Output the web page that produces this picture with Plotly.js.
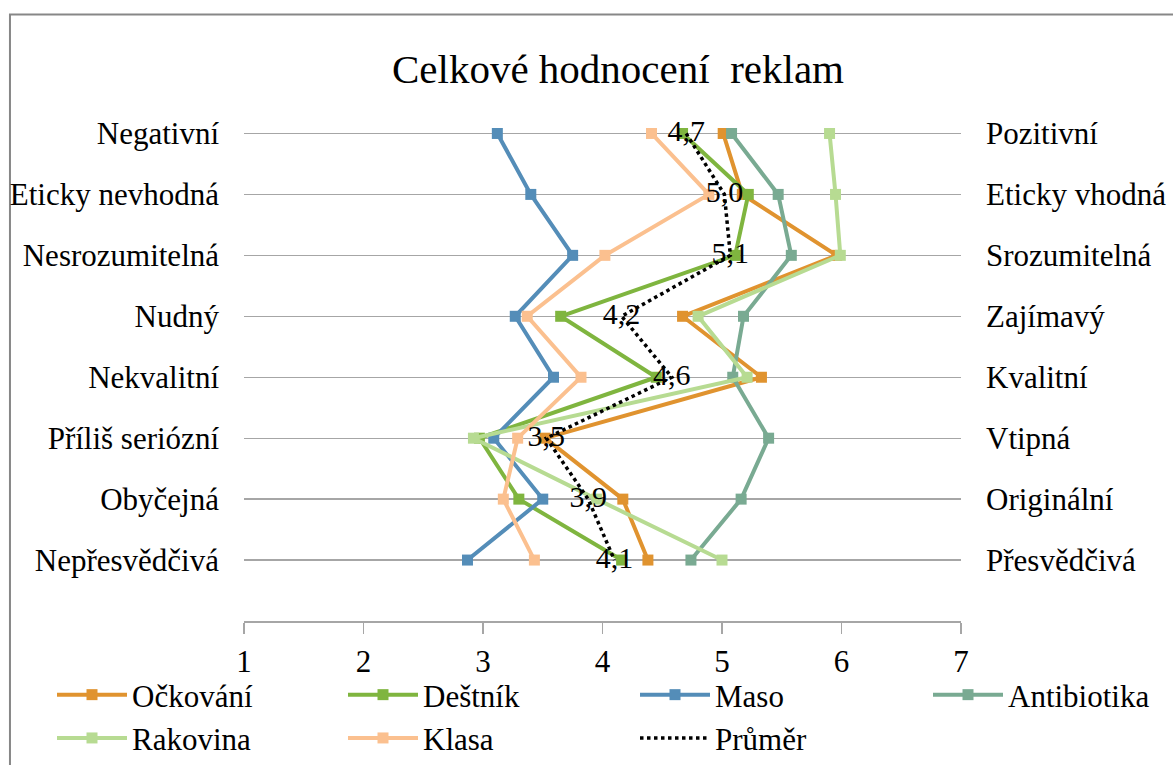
<!DOCTYPE html>
<html>
<head>
<meta charset="utf-8">
<script src="https://cdn.plot.ly/plotly-3.0.1.min.js"></script>
<style>
  html, body { margin: 0; padding: 0; background: #ffffff; }
  #chart { width: 1173px; height: 765px; }
</style>
</head>
<body>
<div id="chart"></div>
<script>
// ---- data ----
const leftLabels  = ["Negativní", "Eticky nevhodná", "Nesrozumitelná", "Nudný", "Nekvalitní", "Příliš seriózní", "Obyčejná", "Nepřesvědčivá"];
const rightLabels = ["Pozitivní", "Eticky vhodná", "Srozumitelná", "Zajímavý", "Kvalitní", "Vtipná", "Originální", "Přesvědčivá"];
const xTicks = [1, 2, 3, 4, 5, 6, 7];

const ockovani    = [5.01, 5.17, 5.96, 4.67, 5.33, 3.52, 4.17, 4.38];
const destnik     = [4.67, 5.22, 5.11, 3.65, 4.45, 2.97, 3.30, 4.16];
const maso        = [3.12, 3.40, 3.75, 3.27, 3.59, 3.09, 3.50, 2.87];
const antibiotika = [5.08, 5.47, 5.58, 5.18, 5.09, 5.39, 5.16, 4.74];
const rakovina    = [5.90, 5.95, 5.99, 4.80, 5.21, 2.92, 3.95, 5.00];
const klasa       = [4.41, 4.89, 4.02, 3.37, 3.82, 3.29, 3.17, 3.43];
const prumer      = [4.70, 5.02, 5.07, 4.16, 4.58, 3.53, 3.88, 4.10];
const prumerText  = ["4,7", "5,0", "5,1", "4,2", "4,6", "3,5", "3,9", "4,1"];

const seriesNames  = ["Očkování", "Deštník", "Maso", "Antibiotika", "Rakovina", "Klasa"];
const seriesValues = [ockovani, destnik, maso, antibiotika, rakovina, klasa];
const seriesColors = ["#E0932F", "#7FB53F", "#548DB8", "#79AA92", "#B7DB92", "#FBC08F"];
// legend column for each series (Průměr goes in the third column)
const seriesLegend = ["legend", "legend2", "legend3", "legend4", "legend", "legend2"];

const FONT = "Liberation Serif";

const traces = seriesValues.map((vals, i) => ({
  type: "scatter",
  mode: "lines+markers",
  name: seriesNames[i],
  x: vals,
  y: leftLabels,
  legend: seriesLegend[i],
  line: { color: seriesColors[i], width: 4 },
  marker: { symbol: "square", size: 11, color: seriesColors[i] },
  hoverinfo: "skip"
}));

traces.push({
  type: "scatter",
  mode: "lines+text",
  name: "Průměr",
  x: prumer,
  y: leftLabels,
  legend: "legend3",
  text: prumerText,
  textposition: "middle center",
  textfont: { family: FONT, size: 30, color: "#000000" },
  line: { color: "#000000", width: 3.5, dash: "dot" },
  hoverinfo: "skip"
});

// invisible helper trace for the right-hand category labels
traces.push({
  type: "scatter",
  mode: "markers",
  x: prumer,
  y: rightLabels,
  yaxis: "y2",
  marker: { opacity: 0 },
  showlegend: false,
  hoverinfo: "skip"
});

function legendAt(xPx) {
  return {
    orientation: "v",
    xref: "container", yref: "container",
    x: xPx / 1173, xanchor: "left",
    y: 1 - 668 / 765, yanchor: "top",
    itemwidth: 70,
    font: { family: FONT, size: 31, color: "#000000" },
    tracegroupgap: 0,
    bgcolor: "rgba(0,0,0,0)"
  };
}

const layout = {
  width: 1173,
  height: 765,
  paper_bgcolor: "#ffffff",
  plot_bgcolor: "#ffffff",
  margin: { l: 244, r: 212, t: 102.5, b: 144, pad: 0, autoexpand: false },
  font: { family: FONT, size: 31, color: "#000000" },
  showlegend: true,
  title: {
    text: "Celkové hodnocení  reklam",
    font: { family: FONT, size: 41, color: "#000000" },
    x: 618 / 1173, xref: "container", xanchor: "center",
    y: 1 - 69 / 765, yref: "container", yanchor: "middle"
  },
  // outer chart-area frame (decoration, not data)
  shapes: [{
    type: "rect", xref: "paper", yref: "paper", layer: "below",
    x0: -0.3264, x1: 1.5, y0: -0.6, y1: 1.1707,
    line: { color: "#878787", width: 2 }, fillcolor: "rgba(0,0,0,0)"
  }],
  xaxis: {
    range: [1, 7],
    tickvals: xTicks,
    ticktext: xTicks.map(String),
    showgrid: false,
    zeroline: false,
    showline: true,
    linecolor: "#A6A6A6",
    linewidth: 1.5,
    ticks: "outside",
    ticklen: 11,
    tickwidth: 1.5,
    tickcolor: "#A6A6A6",
    ticklabelstandoff: 1,
    tickfont: { family: FONT, size: 31, color: "#000000" },
    automargin: false,
    fixedrange: true
  },
  yaxis: {
    type: "category",
    categoryorder: "array",
    categoryarray: leftLabels,
    range: [8, -0.5],
    showgrid: true,
    gridcolor: "#A6A6A6",
    gridwidth: 1.3,
    showline: false,
    zeroline: false,
    ticks: "",
    ticklabelstandoff: 24,
    tickfont: { family: FONT, size: 31, color: "#000000" },
    automargin: false,
    fixedrange: true
  },
  yaxis2: {
    type: "category",
    categoryorder: "array",
    categoryarray: rightLabels,
    overlaying: "y",
    side: "right",
    range: [8, -0.5],
    showgrid: false,
    showline: false,
    zeroline: false,
    ticks: "",
    ticklabelstandoff: 24,
    tickfont: { family: FONT, size: 31, color: "#000000" },
    automargin: false,
    fixedrange: true
  },
  legend: legendAt(52),
  legend2: legendAt(343),
  legend3: legendAt(635),
  legend4: legendAt(928)
};

Plotly.newPlot("chart", traces, layout, { displayModeBar: false, staticPlot: true });
</script>
</body>
</html>
